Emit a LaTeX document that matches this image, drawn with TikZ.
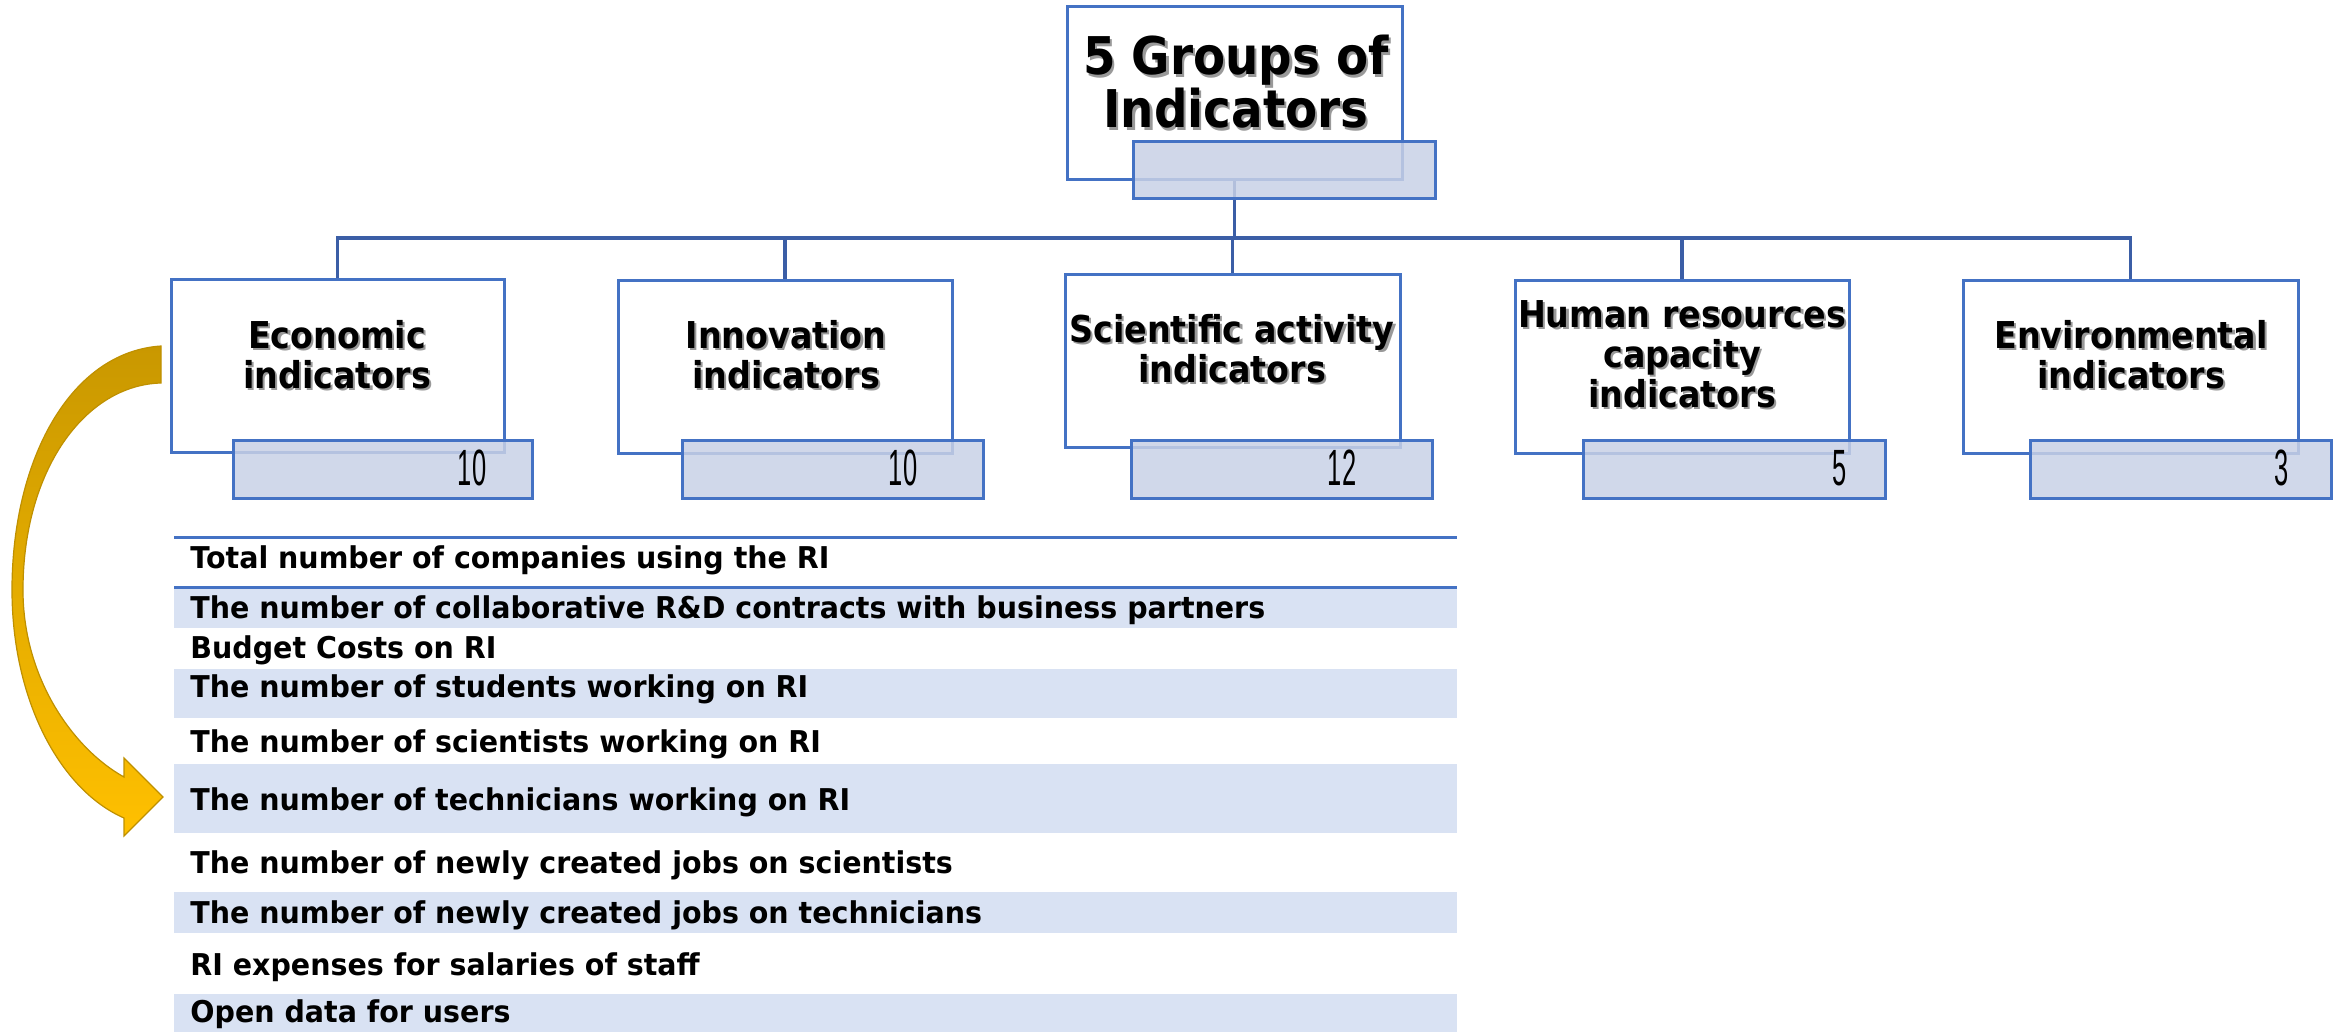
\documentclass[tikz,border=0pt]{standalone}
\usepackage{fontspec}
\usetikzlibrary{fit}
\setmainfont{DejaVu Sans}
\newfontfamily\tahf[FakeStretch=0.9]{DejaVu Sans}
\newfontfamily\tabf[FakeStretch=0.95]{DejaVu Sans}
\newfontfamily\numf[FakeStretch=0.5]{Liberation Sans}
\definecolor{boxblue}{RGB}{68,114,196}
\definecolor{connblue}{RGB}{59,94,166}
\definecolor{barfill}{RGB}{200,209,230}
\definecolor{rowblue}{RGB}{217,226,243}
\definecolor{golddark}{RGB}{201,152,0}
\definecolor{goldlight}{RGB}{255,192,0}
\definecolor{goldedge}{RGB}{191,144,0}
\newcommand\shd[1]{\makebox[0pt][l]{\hspace{1.1pt}\raisebox{-1.1pt}{\textcolor{black!40}{#1}}}#1}
\tikzset{
  box/.style={draw=boxblue, line width=1.5pt, fill=white, inner sep=0pt},
  bar/.style={draw=boxblue, line width=1.5pt, fill=barfill, fill opacity=0.85, inner sep=0pt},
  conn/.style={draw=connblue, line width=1.6pt},
  lbl/.style={font=\tahf\bfseries\fontsize{18.5}{22}\selectfont, anchor=base, inner sep=0pt},
  ttl/.style={font=\tahf\bfseries\fontsize{26}{30}\selectfont, anchor=base, inner sep=0pt},
  rowtxt/.style={font=\tabf\bfseries\fontsize{15}{18}\selectfont, anchor=base west, inner sep=0pt},
  numtxt/.style={font=\numf\fontsize{25.5}{30}\selectfont, anchor=base, inner sep=0pt},
  rowband/.style={fill=rowblue, draw=none},
  tline/.style={draw=boxblue, line width=1.5pt},
  goldarrow/.style={draw=goldedge, line width=0.6pt, top color=golddark, bottom color=goldlight}
}
\begin{document}
\begin{tikzpicture}[x=0.5pt, y=-0.5pt]
\useasboundingbox (0,0) rectangle (2338,1032);
% boxes
\node[box, fit={(1067,7) (1402,180)}] (top) {};
\node[box, fit={(171,279) (504,452)}] (econ) {};
\node[box, fit={(618,280) (952,453)}] (innov) {};
\node[box, fit={(1065,274) (1400,447)}] (sci) {};
\node[box, fit={(1515,280) (1849,453)}] (human) {};
\node[box, fit={(1963,280) (2298,453)}] (envi) {};
% connectors
\coordinate (hub) at (1233,238);
\draw[conn] (top.south) -- (top.south |- hub);
\draw[conn] (econ.north) -- (econ.north |- hub) -- (envi.north |- hub) -- (envi.north);
\foreach \n in {innov,sci,human} \draw[conn] (\n.north) -- (\n.north |- hub);
% bars
\node[bar, fit={(1133,142) (1435,199)}] (topbar) {};
\node[bar, fit={(233,440) (532,498)}] (econbar) {};
\node[bar, fit={(682,440) (983,498)}] (innovbar) {};
\node[bar, fit={(1131,440) (1432,498)}] (scibar) {};
\node[bar, fit={(1583,440) (1885,498)}] (humanbar) {};
\node[bar, fit={(2030,440) (2331,498)}] (envibar) {};
% title
\node[ttl] (t1) at (1236,75) {\shd{5 Groups of}};
\node[ttl] (t2) at (1236,128) {\shd{Indicators}};
% labels
\node[lbl] (econ1) at (337,348) {\shd{Economic}};
\node[lbl] (econ2) at (337,388) {\shd{indicators}};
\node[lbl] (innov1) at (786,348) {\shd{Innovation}};
\node[lbl] (innov2) at (786,388) {\shd{indicators}};
\node[lbl] (sci1) at (1232,342) {\shd{Scientific activity}};
\node[lbl] (sci2) at (1232,382) {\shd{indicators}};
\node[lbl] (hum1) at (1682,327) {\shd{Human resources}};
\node[lbl] (hum2) at (1682,367) {\shd{capacity}};
\node[lbl] (hum3) at (1682,407) {\shd{indicators}};
\node[lbl] (env1) at (2131,348) {\shd{Environmental}};
\node[lbl] (env2) at (2131,388) {\shd{indicators}};
% numbers
\node[numtxt] (n1) at (472,485) {10};
\node[numtxt] (n2) at (903,485) {10};
\node[numtxt] (n3) at (1342,485) {12};
\node[numtxt] (n4) at (1840,485) {5};
\node[numtxt] (n5) at (2282,485) {3};
% table
\path[rowband] (174,587) rectangle (1457,628);
\path[rowband] (174,669) rectangle (1457,718);
\path[rowband] (174,764) rectangle (1457,833);
\path[rowband] (174,892) rectangle (1457,933);
\path[rowband] (174,994) rectangle (1457,1032);
\draw[tline] (174,537) -- (1457,537);
\draw[tline] (174,587) -- (1457,587);
\node[rowtxt] (r1) at (190,568) {Total number of companies using the RI};
\node[rowtxt] (r2) at (190,618) {The number of collaborative R\&D contracts with business partners};
\node[rowtxt] (r3) at (190,658) {Budget Costs on RI};
\node[rowtxt] (r4) at (190,697) {The number of students working on RI};
\node[rowtxt] (r5) at (190,752) {The number of scientists working on RI};
\node[rowtxt] (r6) at (190,810) {The number of technicians working on RI};
\node[rowtxt] (r7) at (190,873) {The number of newly created jobs on scientists};
\node[rowtxt] (r8) at (190,923) {The number of newly created jobs on technicians};
\node[rowtxt] (r9) at (190,975) {RI expenses for salaries of staff};
\node[rowtxt] (r10) at (190,1022) {Open data for users};
% curved arrow
\path[goldarrow] (161,346) .. controls (70,352) and (12,460) .. (12,590)
  .. controls (12,700) and (60,790) .. (124,818) -- (124,836) -- (163,797)
  -- (124,758) -- (124,777) .. controls (75,750) and (23,680) .. (23,590)
  .. controls (23,470) and (85,385) .. (161,383) -- cycle;
\end{tikzpicture}
\end{document}
